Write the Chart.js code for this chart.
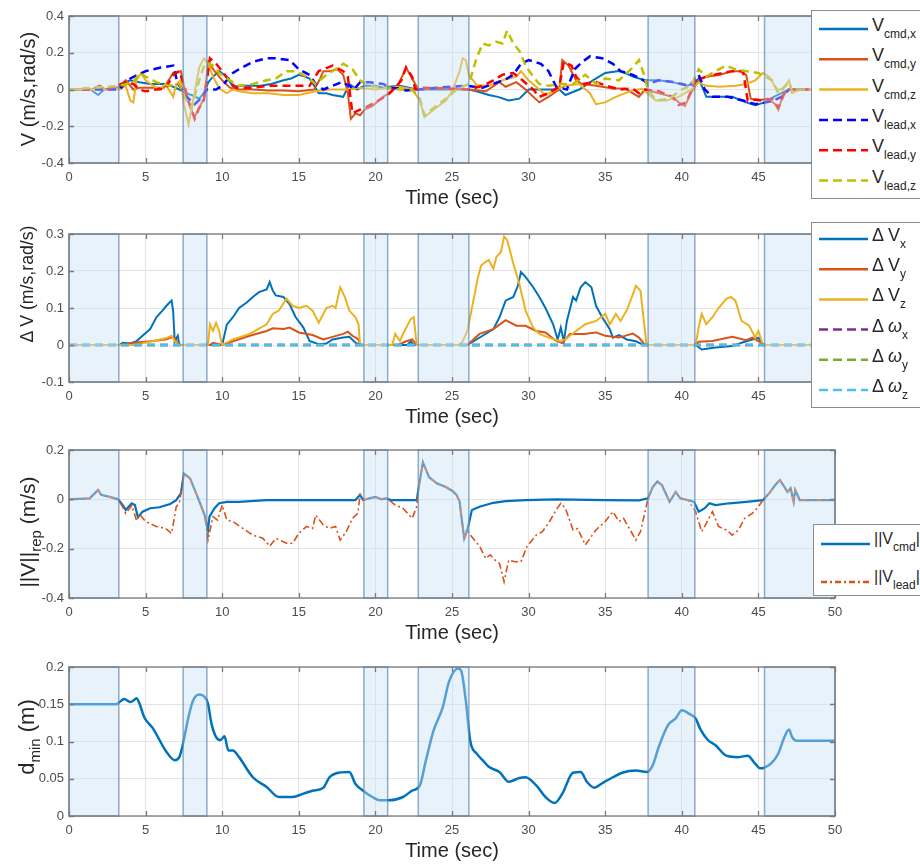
<!DOCTYPE html>
<html>
<head>
<meta charset="utf-8">
<script src="https://cdn.jsdelivr.net/npm/chart.js@4.4.0/dist/chart.umd.min.js"></script>
<style>
html, body { margin: 0; padding: 0; background: #fff; overflow: hidden; width: 920px; height: 864px; }
body { position: relative; font-family: "Liberation Sans", Arial, Helvetica, sans-serif; color: #262626; }
canvas { position: absolute; left: 0; }
.ytitle { position: absolute; white-space: nowrap; font-size: 20px; line-height: 1; transform: translate(-50%, -50%) rotate(-90deg); }
.ytitle sub { font-size: 15px; vertical-align: -6px; line-height: 0; }
.leg { position: absolute; background: #fff; border: 1.5px solid #8c8c8c; box-sizing: border-box; }
.leg svg { position: absolute; left: 0; top: 0; }
.leg .txt { position: absolute; white-space: nowrap; font-size: 18px; line-height: 1; color: #262626; }
.leg sub { font-size: 12px; vertical-align: -7px; line-height: 0; }
</style>
</head>
<body>
<canvas id="c1" width="920" height="217" style="top:0px"></canvas>
<canvas id="c2" width="920" height="218" style="top:218px"></canvas>
<canvas id="c3" width="920" height="218" style="top:434px"></canvas>
<canvas id="c4" width="920" height="219" style="top:651px"></canvas>

<div class="ytitle" style="left:28px;top:89px">V (m/s,rad/s)</div>
<div class="ytitle" style="left:28px;top:284px;font-size:17.7px">Δ V (m/s,rad/s)</div>
<div class="ytitle" style="left:27px;top:532px;font-size:21px">||V||<sub>rep</sub> (m/s)</div>
<div class="ytitle" style="left:27px;top:737px;font-size:22px">d<sub>min</sub> (m)</div>

<script>
// time axis and shaded (contact) intervals
const xTicks = [0, 5, 10, 15, 20, 25, 30, 35, 40, 45, 50];
const shadeStart = [0, 7.45, 19.25, 22.8, 37.8, 45.4];
const shadeEnd = [3.25, 9.0, 20.8, 26.1, 40.85, 50];

const yTicks1 = [-0.4, -0.2, 0, 0.2, 0.4];
const yTicks2 = [-0.1, 0, 0.1, 0.2, 0.3];
const yTicks3 = [-0.4, -0.2, 0, 0.2];
const yTicks4 = [0, 0.05, 0.1, 0.15, 0.2];

// subplot 1: commanded and leader velocities [t, v]
const vCmdX = [[0,0],[1.4,0],[1.9,-0.03],[2.3,0],[3.3,0.01],[3.7,0.04],[4.0,0.05],[4.6,0.04],[5.3,0.03],[6.3,0.03],[6.8,0.015],[7.2,0],[7.6,-0.02],[8.0,-0.03],[8.5,-0.05],[8.8,-0.02],[9.1,0.04],[9.4,0.07],[9.8,0.1],[10.3,0.07],[10.7,0.015],[11.2,0.02],[11.8,0.02],[12.5,0.02],[13.2,0.03],[14,0.05],[14.5,0.06],[15,0.08],[15.4,0.07],[15.7,0.06],[16.0,0.02],[16.3,-0.02],[16.8,-0.02],[17.2,-0.03],[17.9,-0.04],[18.3,0.03],[18.8,0],[19.3,0.02],[20,0.02],[20.5,0.01],[20.9,0.015],[21.6,0.02],[22.4,0.005],[23,0],[25,0],[26.1,0],[26.6,-0.01],[27.4,-0.03],[28,-0.04],[28.7,-0.06],[29.4,-0.05],[30,0],[31.3,0],[32,0],[32.4,-0.03],[33.3,0],[34.2,0.05],[35,0.09],[35.9,0.1],[36.3,0.09],[36.8,0.07],[37.6,0.05],[38.5,0.05],[39.4,0.04],[40.3,0.02],[40.8,0.03],[41.1,0.06],[41.6,-0.04],[42.5,-0.04],[43.3,-0.04],[44.2,-0.07],[44.8,-0.085],[45.4,-0.07],[46,-0.04],[46.5,-0.02],[47,0],[50,0]];
const vCmdY = [[0,0],[1.5,0],[2.0,0.02],[2.4,0],[3.3,0.015],[3.7,0.05],[4.2,0],[4.6,0.01],[5.5,0.01],[6.2,0.01],[6.8,0.09],[7.3,0.1],[7.6,-0.02],[7.9,-0.09],[8.2,-0.15],[8.5,-0.1],[8.8,-0.05],[9.1,0.15],[9.5,0.1],[10,0.05],[10.5,0.01],[11,0],[12,0],[13,-0.005],[14,-0.005],[15,-0.01],[16,0],[16.4,0.06],[16.6,0.1],[17,0.1],[17.5,0.11],[17.9,0.08],[18.2,-0.02],[18.4,-0.16],[18.7,-0.13],[19.0,-0.14],[19.3,-0.11],[19.8,-0.09],[20.5,-0.04],[20.9,-0.02],[21.5,0.03],[21.8,0.08],[22.0,0.12],[22.4,0.06],[22.8,0],[24,0.01],[26.1,0],[27.2,-0.01],[28.1,0.04],[28.5,0.015],[29.2,0.04],[29.8,0],[30.7,-0.07],[31.3,-0.04],[32.0,0],[32.2,0.16],[32.6,0.13],[33.1,0.05],[33.5,0.03],[34.4,0.02],[35.5,0.005],[36.3,0.005],[37.2,-0.04],[37.6,0],[38.5,-0.02],[39.4,-0.04],[39.8,-0.07],[40.2,-0.09],[40.6,-0.02],[41.1,0.05],[41.6,0.07],[42.5,0.08],[43.3,0.1],[43.8,0.1],[44.2,0.08],[44.5,-0.05],[45.0,-0.06],[45.6,-0.05],[46.1,-0.08],[46.3,-0.11],[46.6,-0.03],[47,0],[50,0]];
const vCmdZ = [[0,0],[3.3,0],[3.7,0.02],[4.0,-0.06],[4.2,-0.07],[4.4,0.05],[4.7,0.09],[5.0,0.05],[5.5,0.02],[5.9,0],[6.3,0.03],[6.8,-0.04],[7.0,0.03],[7.3,0.05],[7.5,-0.08],[7.8,-0.19],[8.1,-0.06],[8.5,0.12],[8.8,0.17],[9.1,0.14],[9.4,0.07],[9.8,0.005],[10.3,-0.02],[10.7,0],[11.1,-0.01],[12,-0.02],[13,-0.02],[14,-0.03],[15,-0.03],[16.1,-0.01],[17,0],[18.3,0],[19,0.01],[20,0],[20.9,0.01],[21.6,0.015],[22.4,0],[22.9,-0.06],[23.2,-0.15],[23.8,-0.11],[24.6,-0.06],[25.0,-0.01],[25.5,0.1],[25.7,0.17],[25.9,0.16],[26.1,0.08],[26.6,0.025],[27.4,0.02],[28.3,0.05],[29.2,0.07],[29.5,0.1],[30,0.05],[30.7,0],[31.1,-0.03],[31.8,0],[32.4,0.02],[33.3,0.03],[34,-0.02],[34.4,-0.08],[35,-0.07],[35.7,-0.04],[36.6,-0.01],[37.4,0.005],[38.3,-0.06],[39,-0.06],[39.8,-0.04],[40.7,0.005],[41.1,0.04],[41.6,0.02],[42.5,0.015],[43.5,0.02],[44.2,0.03],[44.8,0.05],[45.3,0.09],[45.7,0.07],[46.2,0],[46.6,0],[47,0.05],[47.2,-0.02],[47.7,0],[50,0]];
const vLeadX = [[0,0],[3.3,0],[3.5,0.02],[4.0,0.06],[4.5,0.08],[5.0,0.1],[5.5,0.11],[6.0,0.12],[6.8,0.13],[7.1,0.03],[7.4,0],[7.7,-0.04],[8.2,-0.08],[8.6,-0.05],[9.0,0],[9.6,0],[10,0.02],[10.7,0.09],[11.3,0.12],[12,0.15],[12.9,0.17],[13.5,0.17],[14.4,0.16],[15,0.11],[15.7,0.08],[16.1,0.03],[16.6,0],[17.2,0.02],[17.8,0.04],[18.3,0.02],[18.6,0],[19.0,0.04],[19.6,0.04],[20.5,0.03],[21,0.01],[21.5,0.005],[22,-0.005],[22.8,0],[24,0.01],[26,0.02],[27,0.01],[28,0.04],[28.6,0.06],[29,0.08],[29.5,0.14],[30,0.16],[30.8,0.14],[31.3,0.1],[31.8,0.015],[32.5,0],[33,0.11],[33.5,0.15],[34,0.18],[34.8,0.17],[35.5,0.14],[36,0.1],[36.8,0.08],[37.5,0.05],[37.8,0.03],[38.5,0.05],[39.5,0.04],[40.5,0.02],[41.1,0.08],[41.5,0],[42,-0.04],[43,-0.04],[44,-0.06],[44.8,-0.08],[45.5,-0.07],[46,-0.06],[46.5,-0.04],[47,0],[50,0]];
const vLeadY = [[0,0],[1.5,0],[2.0,0.02],[2.4,0],[3.1,0.02],[3.7,0.04],[4.2,0.03],[4.6,0],[5.0,-0.01],[5.7,0],[6.3,0.005],[6.8,0.08],[7.2,0.1],[7.6,0],[7.9,-0.09],[8.2,-0.16],[8.5,-0.1],[8.8,-0.06],[9.0,0.05],[9.2,0.17],[9.6,0.14],[10,0.1],[10.5,0.04],[10.9,0.01],[12,0.01],[13,0.02],[14,0.02],[14.6,0.02],[15.7,0.02],[16.3,0.1],[17.2,0.13],[17.9,0.1],[18.2,0.07],[18.5,-0.13],[19.0,-0.11],[19.3,-0.1],[20,-0.07],[20.8,-0.03],[21.3,0.01],[21.7,0.05],[22.0,0.12],[22.4,0.07],[22.6,0],[23,0.01],[26.1,0],[27,0.02],[27.7,0.05],[28.3,0.08],[29,0.09],[29.6,0.05],[30.3,0],[30.7,-0.04],[31.3,-0.02],[32,0.015],[32.3,0.15],[32.8,0.13],[33.1,0.07],[33.5,0.03],[34.4,0.04],[35.3,0.015],[35.9,0],[36.8,0.005],[37.2,-0.02],[37.6,0],[38.5,-0.01],[39.4,-0.04],[39.8,-0.085],[40.3,-0.07],[40.9,0.05],[41.6,0.07],[42.7,0.09],[43.3,0.1],[44.0,0.1],[44.3,-0.06],[44.8,-0.055],[45.3,-0.06],[45.9,-0.05],[46.3,-0.1],[46.8,0],[47.5,0],[50,0]];
const vLeadZ = [[0,0],[3.3,0.02],[4.2,0.04],[4.6,0.09],[5.0,0.07],[5.7,0.04],[6.5,0.02],[7.2,0.03],[7.6,-0.05],[8.0,-0.1],[8.5,0.05],[8.9,0.15],[9.4,0.13],[9.8,0.09],[10.5,0.05],[11.1,0.02],[12,0.03],[12.9,0.05],[13.5,0.06],[14.2,0.1],[14.8,0.1],[15.5,0.07],[16.1,0.03],[16.8,0.08],[17.4,0.11],[17.9,0.14],[18.5,0.11],[19.0,0.05],[19.5,0.02],[20.5,0.01],[21.6,0],[22.4,0],[22.9,-0.05],[23.2,-0.14],[23.8,-0.1],[24.6,-0.05],[25.3,0],[26.1,0.03],[26.6,0.17],[27,0.25],[27.4,0.24],[27.9,0.26],[28.3,0.25],[28.6,0.32],[29,0.25],[29.4,0.21],[29.8,0.13],[30.3,0.07],[30.7,0.03],[31.3,0.02],[32,0.03],[32.9,0.03],[33.7,0.08],[34.4,0.03],[35,0.06],[35.9,0.05],[36.8,0.12],[37.2,0.16],[37.5,0.09],[37.8,0],[38.3,-0.06],[39.2,-0.05],[40,0],[40.6,0.02],[41.1,0.11],[41.6,0.07],[42.2,0.1],[42.9,0.13],[43.5,0.11],[44.2,0.1],[45.0,0.09],[45.9,0.05],[46.3,-0.02],[47,0.04],[47.2,-0.01],[47.6,0],[50,0]];

// subplot 2: velocity differences
const dVx = [[0,0],[3.3,0],[3.5,0.006],[4.0,0.004],[4.4,0.01],[4.8,0.025],[5.3,0.043],[5.7,0.075],[6.1,0.093],[6.45,0.11],[6.7,0.12],[6.8,0.09],[6.9,0.01],[7.1,0.025],[7.2,0],[10,0],[10.3,0.055],[10.7,0.075],[11.1,0.1],[11.6,0.115],[12,0.13],[12.4,0.143],[12.9,0.15],[13.1,0.17],[13.3,0.147],[13.5,0.134],[14,0.13],[14.4,0.11],[14.8,0.075],[15.3,0.047],[15.7,0.011],[16.3,0.002],[16.8,0.004],[17.2,0.015],[17.9,0.02],[18.3,0.022],[18.7,0.006],[19,0],[22.1,0],[22.3,0.01],[22.5,0],[26,0],[27,0.025],[27.7,0.043],[28.1,0.075],[28.5,0.12],[29,0.13],[29.3,0.16],[29.5,0.197],[29.8,0.184],[30.3,0.156],[30.7,0.13],[31.1,0.1],[31.6,0.056],[31.9,0.015],[32.1,0.047],[32.3,0.01],[32.5,0.065],[32.9,0.13],[33.1,0.12],[33.4,0.156],[33.7,0.17],[34.1,0.156],[34.4,0.106],[34.8,0.075],[35.3,0.043],[35.5,0.02],[35.9,0.027],[36.4,0.015],[37,0.01],[37.5,0],[40.9,0],[41.3,-0.012],[42.2,-0.007],[43.3,-0.003],[43.9,0.006],[44.6,0.015],[45,0.02],[45.3,0],[50,0]];
const dVy = [[0,0],[3.3,0],[4.2,0.006],[5.3,0.01],[6.3,0.015],[6.8,0.022],[7.2,0],[9.2,0],[9.4,0.006],[10,0],[10.7,0.01],[11.8,0.025],[12.9,0.038],[13.3,0.045],[14,0.043],[14.4,0.047],[15,0.034],[15.9,0.027],[16.6,0.015],[17.2,0.022],[17.9,0.03],[18.2,0.036],[18.5,0.025],[18.9,0.015],[19,0],[21.5,0],[22,0.01],[22.4,0.015],[22.7,0],[26,0],[26.8,0.03],[27.7,0.043],[28.5,0.067],[29.2,0.052],[29.8,0.052],[30.5,0.038],[31.1,0.034],[31.8,0.011],[32.2,0.005],[32.7,0.03],[33.6,0.03],[34.4,0.034],[35,0.025],[35.9,0.02],[36.8,0.031],[37.2,0.02],[37.6,0],[40.9,0],[41.1,0.009],[42,0.011],[43.3,0.022],[44.2,0.013],[44.6,0.02],[45.2,0.006],[45.4,0],[50,0]];
const dVz = [[0,0],[4.2,0],[5.3,0.009],[6.3,0.018],[6.7,0.025],[6.9,0.011],[7.2,0],[9.07,0],[9.2,0.056],[9.4,0.038],[9.6,0.06],[9.8,0.038],[9.93,0.011],[10.0,0],[10.7,0.015],[11.8,0.03],[12.9,0.056],[13.3,0.084],[13.7,0.093],[14.2,0.125],[14.6,0.106],[15.0,0.1],[15.5,0.106],[15.9,0.093],[16.3,0.06],[16.8,0.1],[17.2,0.106],[17.4,0.1],[17.7,0.156],[18.0,0.13],[18.3,0.093],[18.7,0.075],[18.9,0.056],[19.0,0],[21.1,0],[21.3,0.03],[21.6,0.011],[21.9,0.038],[22.3,0.07],[22.5,0.075],[22.7,0],[25.5,0],[25.7,0.01],[26.0,0.038],[26.3,0.1],[26.7,0.184],[26.9,0.215],[27.2,0.225],[27.4,0.23],[27.7,0.206],[27.9,0.238],[28.2,0.252],[28.4,0.293],[28.6,0.284],[29.0,0.22],[29.4,0.165],[29.8,0.093],[30.3,0.047],[30.7,0.03],[31.3,0.02],[32.0,0.011],[32.4,0.015],[33.1,0.038],[33.7,0.056],[34.4,0.065],[35.0,0.084],[35.3,0.056],[35.7,0.084],[36.0,0.065],[36.4,0.093],[36.7,0.125],[37.0,0.16],[37.3,0.147],[37.7,0],[40.9,0],[41.1,0.047],[41.3,0.084],[41.6,0.056],[42,0.075],[42.4,0.1],[42.9,0.125],[43.2,0.13],[43.5,0.12],[43.9,0.065],[44.4,0.052],[44.8,0.02],[45.0,0.038],[45.3,0],[50,0]];
const dWx = [[0,0],[50,0]];
const dWy = [[0,0],[50,0]];
const dWz = [[0,0],[50,0]];

// subplot 3: repulsive velocity norms
const vCmdNorm = [[0,0],[1.35,0.004],[1.9,0.038],[2.1,0.018],[2.65,0.01],[3.2,0],[3.5,-0.023],[3.7,-0.043],[4.1,-0.016],[4.3,-0.023],[4.5,-0.073],[4.8,-0.05],[5.3,-0.036],[5.9,-0.032],[6.6,-0.019],[7.0,-0.003],[7.3,0.024],[7.5,0.105],[7.9,0.085],[8.3,0.024],[8.6,-0.023],[8.85,-0.064],[9.07,-0.124],[9.17,-0.07],[9.5,-0.036],[9.8,-0.016],[10.3,-0.01],[11.1,-0.01],[12.9,-0.003],[18.7,-0.003],[19.0,0.018],[19.2,-0.003],[19.6,0.004],[20.0,0.01],[20.4,0],[20.7,0.004],[21,-0.003],[22.7,-0.003],[22.8,0.038],[23.1,0.15],[23.5,0.09],[24.0,0.065],[24.6,0.05],[25.0,0.035],[25.3,0.018],[25.5,-0.01],[25.6,-0.064],[25.8,-0.158],[26.0,-0.124],[26.3,-0.043],[26.8,-0.03],[27.7,-0.014],[28.5,-0.007],[29.8,-0.003],[31.8,0],[35,-0.003],[37.2,-0.004],[37.8,0.004],[38.1,0.05],[38.4,0.072],[38.7,0.058],[39.2,-0.01],[39.6,0.03],[39.9,0.004],[40.4,-0.003],[40.8,-0.01],[41.1,-0.05],[41.5,-0.036],[41.8,-0.016],[42.2,-0.023],[43.1,-0.016],[44.2,-0.01],[45.3,-0.003],[45.7,0.024],[46.1,0.058],[46.4,0.078],[46.7,0.05],[46.9,0.03],[47.1,0.045],[47.3,-0.01],[47.4,0.038],[47.7,-0.003],[50,-0.003]];
const vLeadNorm = [[0,0],[1.35,0.004],[1.9,0.038],[2.1,0.018],[2.65,0.01],[3.2,0],[3.5,-0.03],[3.7,-0.057],[4.1,-0.025],[4.4,-0.084],[4.6,-0.06],[5.0,-0.09],[5.7,-0.11],[6.3,-0.118],[6.7,-0.138],[7.0,-0.03],[7.2,-0.016],[7.3,0.024],[7.5,0.105],[7.9,0.085],[8.3,0.024],[8.6,-0.023],[8.85,-0.064],[9.07,-0.165],[9.4,-0.07],[9.7,-0.084],[10.0,-0.023],[10.3,-0.084],[10.7,-0.09],[11.35,-0.118],[12.0,-0.145],[12.65,-0.158],[13.1,-0.19],[13.5,-0.158],[14.2,-0.178],[14.6,-0.178],[15.0,-0.138],[15.5,-0.11],[15.9,-0.118],[16.1,-0.064],[16.6,-0.104],[17.0,-0.118],[17.4,-0.11],[17.7,-0.165],[18.1,-0.131],[18.5,-0.077],[18.85,-0.057],[19.0,0.018],[19.2,-0.003],[19.6,0.004],[20.0,0.01],[20.4,0],[20.7,0.004],[20.9,-0.003],[21.3,-0.023],[21.8,-0.036],[22.4,-0.077],[22.7,-0.03],[22.8,0.038],[23.1,0.15],[23.5,0.09],[24.0,0.065],[24.6,0.05],[25.0,0.035],[25.3,0.018],[25.5,-0.01],[25.6,-0.064],[25.8,-0.158],[26.0,-0.124],[26.2,-0.145],[26.8,-0.19],[27.2,-0.24],[27.5,-0.225],[27.8,-0.246],[28.1,-0.26],[28.4,-0.334],[28.7,-0.246],[29.1,-0.253],[29.5,-0.253],[29.9,-0.19],[30.5,-0.145],[30.9,-0.131],[31.3,-0.097],[31.8,-0.043],[32.1,-0.016],[32.4,-0.036],[32.9,-0.124],[33.2,-0.118],[33.7,-0.185],[34.4,-0.124],[35.0,-0.09],[35.5,-0.05],[35.9,-0.09],[36.2,-0.077],[37.0,-0.165],[37.3,-0.131],[37.8,0.004],[38.1,0.05],[38.4,0.072],[38.7,0.058],[39.2,-0.01],[39.6,0.03],[39.9,0.004],[40.4,-0.003],[40.9,-0.05],[41.3,-0.131],[41.6,-0.097],[42.0,-0.05],[42.4,-0.11],[42.9,-0.124],[43.3,-0.145],[43.7,-0.124],[44.1,-0.077],[44.6,-0.057],[45.0,-0.03],[45.3,-0.003],[45.7,0.024],[46.1,0.058],[46.4,0.078],[46.7,0.05],[46.9,0.03],[47.1,0.045],[47.3,-0.01],[47.4,0.038],[47.7,-0.003],[50,-0.003]];

// subplot 4: minimum distance
const dMin = [[0,0.15],[3.1,0.15],[3.3,0.153],[3.6,0.157],[4.0,0.153],[4.2,0.155],[4.4,0.158],[4.6,0.151],[4.9,0.133],[5.5,0.117],[6.3,0.088],[6.9,0.075],[7.2,0.079],[7.4,0.093],[7.8,0.133],[8.1,0.155],[8.5,0.163],[8.85,0.16],[9.07,0.151],[9.3,0.124],[9.6,0.106],[9.9,0.102],[10.15,0.107],[10.4,0.088],[10.7,0.088],[11.1,0.079],[12.0,0.052],[12.9,0.039],[13.7,0.0255],[14.6,0.0255],[15.3,0.03],[15.9,0.034],[16.6,0.038],[17.0,0.052],[17.4,0.057],[18.3,0.059],[18.7,0.043],[19.2,0.034],[19.8,0.0255],[20.3,0.021],[20.9,0.021],[21.8,0.0255],[22.4,0.034],[22.9,0.041],[23.3,0.075],[23.8,0.115],[24.4,0.146],[24.8,0.18],[25.4,0.198],[25.6,0.195],[25.9,0.155],[26.2,0.1],[26.6,0.084],[27.0,0.075],[27.4,0.066],[28.1,0.059],[28.7,0.046],[29.4,0.051],[29.8,0.052],[30.5,0.041],[31.1,0.0255],[31.7,0.0175],[32.2,0.03],[32.9,0.058],[33.4,0.059],[33.8,0.046],[34.3,0.038],[34.8,0.044],[35.5,0.052],[36.1,0.058],[37.0,0.061],[37.7,0.059],[38.1,0.068],[38.5,0.093],[39.1,0.122],[39.6,0.131],[40.0,0.142],[40.5,0.137],[40.9,0.131],[41.2,0.117],[41.7,0.102],[42.2,0.095],[42.9,0.081],[43.7,0.079],[44.3,0.081],[44.8,0.07],[45.1,0.064],[45.4,0.065],[45.9,0.072],[46.3,0.084],[46.7,0.106],[47.0,0.116],[47.2,0.106],[47.5,0.101],[50,0.101]];

const FONT = '"Liberation Sans", Arial, Helvetica, sans-serif';

function pts(a) { return a.map(p => ({ x: p[0], y: p[1] })); }

// light blue patches drawn over the lines, like the original figure
const shadePlugin = {
  id: 'shade',
  afterDatasetsDraw(chart) {
    const { ctx, chartArea: a, scales: { x } } = chart;
    ctx.save();
    ctx.beginPath();
    ctx.rect(a.left - 1, a.top - 1, a.width + 2, a.height + 2);
    ctx.clip();
    for (let i = 0; i < shadeStart.length; i++) {
      const x0 = x.getPixelForValue(shadeStart[i]);
      const x1 = x.getPixelForValue(shadeEnd[i]);
      ctx.fillStyle = 'rgba(200,225,245,0.42)';
      ctx.fillRect(x0, a.top, x1 - x0, a.height);
      ctx.strokeStyle = 'rgba(95,135,180,0.7)';
      ctx.lineWidth = 1.5;
      ctx.strokeRect(x0, a.top, x1 - x0, a.height);
    }
    ctx.restore();
  }
};

// axes box with inward tick marks
const framePlugin = {
  id: 'frame',
  afterDraw(chart) {
    const { ctx, chartArea: a, scales: { x, y } } = chart;
    ctx.save();
    ctx.strokeStyle = '#7a7a7a';
    ctx.lineWidth = 1.3;
    ctx.strokeRect(a.left, a.top, a.width, a.height);
    ctx.beginPath();
    x.ticks.forEach(t => {
      const px = Math.round(x.getPixelForValue(t.value)) + 0.5;
      ctx.moveTo(px, a.bottom); ctx.lineTo(px, a.bottom - 5);
      ctx.moveTo(px, a.top); ctx.lineTo(px, a.top + 5);
    });
    y.ticks.forEach(t => {
      const py = Math.round(y.getPixelForValue(t.value)) + 0.5;
      ctx.moveTo(a.left, py); ctx.lineTo(a.left + 5, py);
      ctx.moveTo(a.right, py); ctx.lineTo(a.right - 5, py);
    });
    ctx.stroke();
    ctx.restore();
  }
};

function line(data, color, dash, width, order, smooth) {
  const ds = {
    data: pts(data), borderColor: color, borderWidth: width || 2, borderDash: dash || [],
    pointRadius: 0, fill: false, tension: 0, order: order
  };
  if (smooth) ds.cubicInterpolationMode = 'monotone';
  return ds;
}

function makeChart(id, datasets, yMin, yMax, yTicks) {
  return new Chart(document.getElementById(id), {
    type: 'line',
    data: { datasets: datasets },
    options: {
      responsive: false,
      animation: false,
      layout: { padding: { top: 16, right: 85, left: 0, bottom: 0 } },
      plugins: { legend: { display: false }, tooltip: { enabled: false } },
      scales: {
        x: {
          type: 'linear', min: 0, max: 50,
          afterBuildTicks: s => { s.ticks = xTicks.map(v => ({ value: v })); },
          afterFit: s => { s.height = 54; },
          grid: { color: '#e4e4e4', drawTicks: false },
          border: { display: false },
          ticks: { padding: 7, maxRotation: 0, color: '#4d4d4d', font: { family: FONT, size: 13 } },
          title: { display: true, text: 'Time (sec)', color: '#262626', font: { family: FONT, size: 20 }, padding: { top: 0, bottom: 7 } }
        },
        y: {
          min: yMin, max: yMax,
          afterBuildTicks: s => { s.ticks = yTicks.map(v => ({ value: v })); },
          afterFit: s => { s.width = 69; },
          grid: { color: '#e4e4e4', drawTicks: false },
          border: { display: false },
          ticks: { padding: 5, color: '#4d4d4d', font: { family: FONT, size: 13 }, callback: v => String(+v.toFixed(2)) }
        }
      }
    },
    plugins: [shadePlugin, framePlugin]
  });
}

const C_BLUE = '#0072BD', C_RED = '#D95319', C_YEL = '#EDB120', C_PUR = '#7E2F8E', C_GRN = '#77AC30', C_CYA = '#4DBEEE';
const C_LX = '#0000FF', C_LY = '#FF0000', C_LZ = '#BFBF00';
const DASH = [8, 5];
const DASHDOT = [7, 3, 2, 3];

makeChart('c1', [
  line(vCmdX, C_BLUE, null, 2, 6),
  line(vCmdY, C_RED, null, 2, 5),
  line(vCmdZ, C_YEL, null, 2, 4),
  line(vLeadX, C_LX, DASH, 2.5, 3),
  line(vLeadY, C_LY, DASH, 2.5, 2),
  line(vLeadZ, C_LZ, DASH, 2.5, 1)
], -0.4, 0.4, yTicks1);

makeChart('c2', [
  line(dVx, C_BLUE, null, 2, 6),
  line(dVy, C_RED, null, 2, 5),
  line(dVz, C_YEL, null, 2, 4),
  line(dWx, C_PUR, DASH, 2.5, 3),
  line(dWy, C_GRN, DASH, 2.5, 2),
  line(dWz, C_CYA, DASH, 2.5, 1)
], -0.1, 0.3, yTicks2);

makeChart('c3', [
  line(vCmdNorm, C_BLUE, null, 2.2, 2),
  line(vLeadNorm, C_RED, DASHDOT, 1.6, 1)
], -0.4, 0.2, yTicks3);

makeChart('c4', [
  line(dMin, C_BLUE, null, 2.5, 1, true)
], 0, 0.2, yTicks4);

// legends (HTML so that the subscripts stay real text)
const legend1 = [
  ['V<sub>cmd,x</sub>', C_BLUE, ''], ['V<sub>cmd,y</sub>', C_RED, ''], ['V<sub>cmd,z</sub>', C_YEL, ''],
  ['V<sub>lead,x</sub>', C_LX, '9,5'], ['V<sub>lead,y</sub>', C_LY, '9,5'], ['V<sub>lead,z</sub>', C_LZ, '9,5']
];
const legend2 = [
  ['Δ V<sub>x</sub>', C_BLUE, ''], ['Δ V<sub>y</sub>', C_RED, ''], ['Δ V<sub>z</sub>', C_YEL, ''],
  ['Δ <i>ω</i><sub>x</sub>', C_PUR, '9,5'], ['Δ <i>ω</i><sub>y</sub>', C_GRN, '9,5'], ['Δ <i>ω</i><sub>z</sub>', C_CYA, '9,5']
];
const legend3 = [
  ['||V<sub>cmd</sub>||', C_BLUE, ''], ['||V<sub>lead</sub>||', C_RED, '6,3,2,3']
];

function makeLegend(items, left, top, w, h, rowTop, rowStep, fontSize) {
  const box = document.createElement('div');
  box.className = 'leg';
  box.style.cssText = `left:${left}px;top:${top}px;width:${w}px;height:${h}px`;
  const svgNS = 'http://www.w3.org/2000/svg';
  const svg = document.createElementNS(svgNS, 'svg');
  svg.setAttribute('width', w);
  svg.setAttribute('height', h);
  items.forEach((it, i) => {
    const cy = rowTop + i * rowStep;
    const ln = document.createElementNS(svgNS, 'line');
    ln.setAttribute('x1', 7); ln.setAttribute('x2', 56);
    ln.setAttribute('y1', cy); ln.setAttribute('y2', cy);
    ln.setAttribute('stroke', it[1]);
    ln.setAttribute('stroke-width', 2.5);
    if (it[2]) ln.setAttribute('stroke-dasharray', it[2]);
    svg.appendChild(ln);
    const t = document.createElement('div');
    t.className = 'txt';
    t.style.left = '60px';
    t.style.top = (cy - 13) + 'px';
    if (fontSize) t.style.fontSize = fontSize + 'px';
    t.innerHTML = it[0];
    box.appendChild(t);
  });
  box.appendChild(svg);
  document.body.appendChild(box);
}

makeLegend(legend1, 811, 10, 120, 189, 18, 30.3);
makeLegend(legend2, 811, 222, 120, 186, 16, 30.2);
makeLegend(legend3, 813, 524, 120, 72, 19, 38, 16);
</script>
</body>
</html>
